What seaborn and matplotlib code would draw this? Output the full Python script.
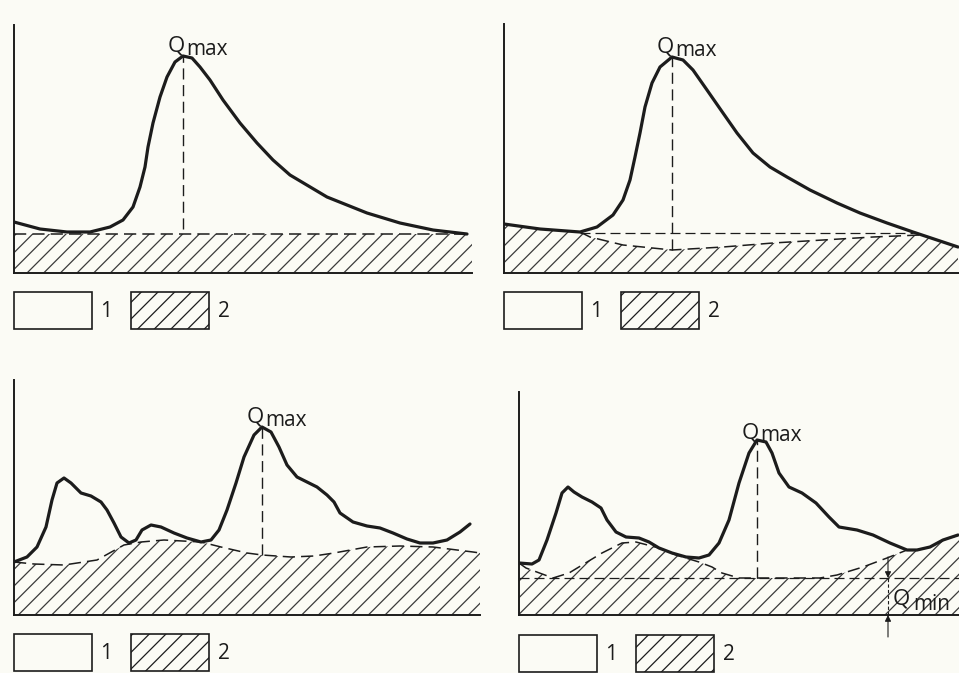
import matplotlib
matplotlib.use('Agg')
import matplotlib.pyplot as plt
from matplotlib.patches import Patch
import seaborn as sns

# Hydrograph separation schemes
# (time and discharge in arbitrary units, one unit ~ one pixel of the scan)

# a) single flood wave, constant baseflow
a_t = [0, 26, 53, 76, 96, 109, 119, 126, 131, 134, 139, 146, 153, 161, 169, 178, 186, 196, 209,
       226, 243, 259, 276, 313, 353, 386, 419, 453]
a_q = [51, 44, 41, 41, 46, 53, 66, 86, 106, 126, 150, 176, 196, 211, 217, 215, 206, 193, 173,
       150, 130, 113, 98, 76, 60, 50, 43, 39]
a_base = 39
a_peak = 169
a_size = (458, 248)

# b) single flood wave, baseflow dipping under the peak
b_t = [0, 36, 76, 93, 109, 119, 126, 131, 136, 141, 148, 156, 168, 179, 189, 203, 219, 233, 249,
       266, 283, 306, 333, 356, 383, 409, 433, 454]
b_q = [49, 44, 41, 46, 58, 73, 93, 116, 140, 166, 190, 206, 216, 213, 203, 183, 160, 140, 120,
       106, 96, 83, 70, 60, 50, 41, 33, 26]
b_base_t = [0, 36, 76, 86, 119, 168, 219, 269, 319, 369, 416, 433, 454]
b_base_q = [49, 44, 41, 36, 28, 23, 26, 30, 33, 36, 38, 33, 26]
b_flat = (76, 409, 40)
b_peak = 168
b_size = (455, 249)

# c) several waves, smooth baseflow line
c_t = [0, 13, 23, 32, 38, 43, 50, 57, 67, 77, 87, 93, 100, 107, 115, 122, 128, 137, 147, 160,
       173, 187, 197, 205, 213, 222, 230, 240, 248, 257, 265, 273, 283, 293, 303, 313, 320, 326,
       339, 353, 366, 379, 393, 406, 419, 433, 446, 456]
c_q = [53, 58, 68, 88, 115, 132, 137, 132, 122, 119, 113, 105, 92, 78, 72, 75, 85, 90, 88, 82,
       77, 73, 75, 85, 105, 132, 158, 180, 188, 183, 168, 150, 138, 133, 128, 120, 113, 102,
       93, 89, 87, 82, 76, 72, 72, 75, 83, 91]
c_base_t = [0, 20, 50, 83, 110, 127, 150, 187, 207, 233, 248, 277, 300, 320, 353, 386, 419, 459, 466]
c_base_q = [53, 51, 50, 55, 70, 73, 75, 73, 68, 62, 60, 58, 59, 62, 68, 69, 68, 63, 62]
c_peak = 248
c_size = (466, 235)

# d) several waves, baseflow limited by Q_min
d_t = [0, 13, 20, 28, 37, 43, 49, 55, 63, 73, 82, 88, 97, 107, 120, 130, 140, 153, 167, 180,
       190, 200, 210, 220, 230, 238, 247, 253, 260, 270, 283, 297, 310, 320, 338, 354, 371, 388,
       398, 411, 424, 439]
d_q = [52, 51, 55, 75, 102, 122, 128, 123, 118, 113, 107, 95, 83, 78, 77, 73, 67, 62, 58, 57,
       60, 72, 95, 132, 162, 175, 173, 162, 142, 128, 122, 112, 98, 88, 85, 80, 72, 65,
       65, 68, 75, 80]
d_base_t = [0, 7, 34, 50, 83, 103, 117, 140, 157, 180, 193, 203, 220, 301, 318, 344, 368, 388,
            398, 411, 424, 440]
d_base_q = [52, 47, 37, 42, 62, 72, 73, 67, 60, 53, 48, 42, 37, 37, 40, 48, 57, 65, 65, 68, 75, 80]
d_qmin = 37
d_qmin_t = 369
d_peak = 238
d_size = (440, 223)

legend_labels = ['1', '2']

paper = '#fbfbf5'
ink = '#1c1c1c'
hatch_ink = '#3a3a3a'

sns.set_theme(style='white')
plt.rcParams['font.family'] = ['Open Sans', 'DejaVu Sans']
plt.rcParams['hatch.linewidth'] = 0.9
plt.rcParams['hatch.color'] = hatch_ink

fig = plt.figure(figsize=(9.59, 6.73), dpi=100, facecolor=paper)

W, H = 959, 673


def make_axes(left, bottom, size):
    # place an axes by its pixel box on the scan
    ax = fig.add_axes([left / W, (H - bottom) / H, size[0] / W, size[1] / H])
    ax.set_facecolor('none')
    ax.set_xlim(0, size[0])
    ax.set_ylim(0, size[1])
    ax.set_xticks([])
    ax.set_yticks([])
    for s in ['top', 'right']:
        ax.spines[s].set_visible(False)
    for s in ['left', 'bottom']:
        ax.spines[s].set_color(ink)
        ax.spines[s].set_linewidth(1.4)
    return ax


def hatch_fill(ax, t, q):
    ax.fill_between(t, 0, q, facecolor='none', edgecolor=hatch_ink, hatch='//', linewidth=0)


def dashed(ax, t, q, lw=1.1):
    ax.plot(t, q, color=ink, lw=lw, linestyle=(0, (8, 4)))


def q_label(ax, x, y, sub, dy=3):
    ax.annotate('Q', (x, y), xytext=(-11, dy), textcoords='offset points',
                ha='left', va='baseline', fontsize=16, color=ink)
    ax.annotate(sub, (x, y), xytext=(2.5, dy - 2), textcoords='offset points',
                ha='left', va='baseline', fontsize=15, color=ink)


def add_legend(ax, size, gap=19):
    handles = [Patch(facecolor=paper, edgecolor=ink, lw=1.2),
               Patch(facecolor=paper, edgecolor=ink, hatch='//', lw=1.2)]
    ax.legend(handles, legend_labels, loc='upper left', bbox_to_anchor=(0, -gap / size[1]),
              ncol=2, frameon=False, fontsize=15, handlelength=3.75, handleheight=2.36,
              handletextpad=0.4, columnspacing=0.9, borderpad=0, borderaxespad=0,
              labelcolor=ink)


def curve(ax, t, q):
    sns.lineplot(x=t, y=q, ax=ax, color=ink, lw=2.3, sort=False, estimator=None)


# panel a
ax = make_axes(14, 273, a_size)
hatch_fill(ax, [0, a_size[0]], [a_base, a_base])
dashed(ax, [0, a_size[0]], [a_base, a_base])
curve(ax, a_t, a_q)
dashed(ax, [a_peak, a_peak], [a_base + 5, max(a_q)], lw=1.0)
q_label(ax, a_peak, max(a_q), 'max')
add_legend(ax, a_size)

# panel b
ax = make_axes(504, 273, b_size)
hatch_fill(ax, b_base_t, b_base_q)
dashed(ax, b_base_t[2:-2], b_base_q[2:-2])
dashed(ax, [b_flat[0], b_flat[1]], [b_flat[2], b_flat[2]], lw=0.9)
curve(ax, b_t, b_q)
dashed(ax, [b_peak, b_peak], [min(b_base_q), max(b_q)], lw=1.0)
q_label(ax, b_peak, max(b_q), 'max')
add_legend(ax, b_size)

# panel c
ax = make_axes(14, 615, c_size)
hatch_fill(ax, c_base_t, c_base_q)
dashed(ax, c_base_t, c_base_q)
curve(ax, c_t, c_q)
dashed(ax, [c_peak, c_peak], [60, max(c_q)], lw=1.0)
q_label(ax, c_peak, max(c_q), 'max')
add_legend(ax, c_size)

# panel d
ax = make_axes(519, 615, d_size)
hatch_fill(ax, d_base_t, d_base_q)
dashed(ax, d_base_t, d_base_q)
dashed(ax, [0, d_size[0]], [d_qmin, d_qmin], lw=0.9)
curve(ax, d_t, d_q)
dashed(ax, [d_peak, d_peak], [d_qmin, max(d_q)], lw=1.0)
q_label(ax, d_peak, max(d_q), 'max', dy=1)
arrow = dict(arrowstyle='-|>', lw=0.8, color=ink, mutation_scale=9, shrinkA=0, shrinkB=0)
ax.annotate('', xy=(d_qmin_t, d_qmin), xytext=(d_qmin_t, d_qmin + 21), arrowprops=arrow,
            annotation_clip=False)
ax.annotate('', xy=(d_qmin_t, 0), xytext=(d_qmin_t, -22), arrowprops=arrow,
            annotation_clip=False)
ax.plot([d_qmin_t, d_qmin_t], [0, d_qmin], color=ink, lw=0.8, linestyle=(0, (3, 2)))
ax.text(d_qmin_t + 5, 10, 'Q', fontsize=16, color=ink, va='baseline')
ax.text(d_qmin_t + 25, 5, 'min', fontsize=15, color=ink, va='baseline')
add_legend(ax, d_size, gap=20)

fig.savefig('out.png', dpi=100, facecolor=paper)
